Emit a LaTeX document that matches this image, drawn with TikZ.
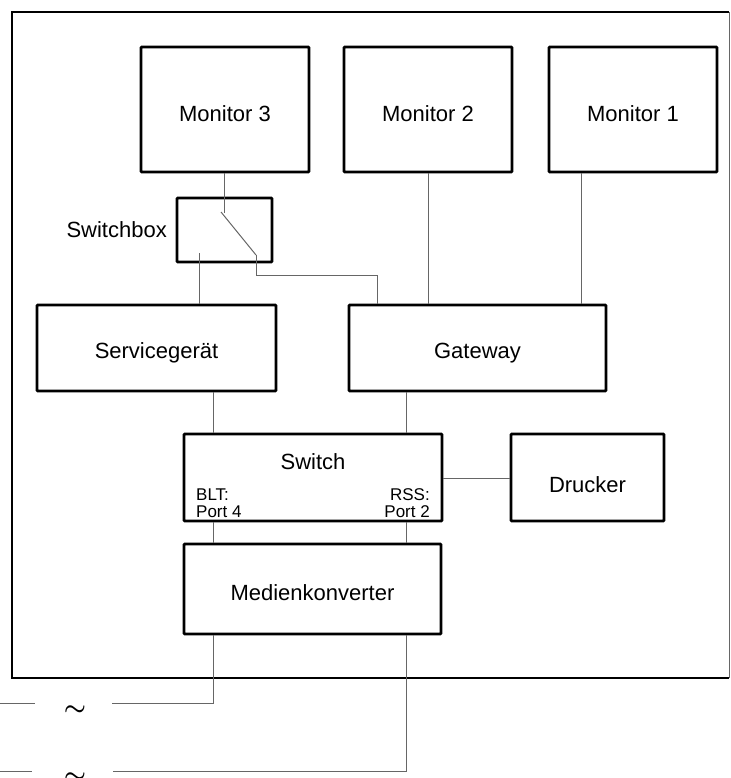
\documentclass[tikz,border=0pt]{standalone}
\usepackage{fontspec}
\setmainfont{Liberation Sans}
\begin{document}
\begin{tikzpicture}[x=1pt,y=-1pt,
  box/.style={draw=black,line width=2.8pt,rounded corners=0.8pt,inner sep=0pt},
  conn/.style={draw=black!60,line width=1pt},
  frameline/.style={draw=black,line width=2.8pt},
  lbl/.style={inner sep=0pt,font=\fontsize{22}{26}\selectfont},
  small/.style={inner sep=0pt,font=\fontsize{17}{18}\selectfont,align=left},
  tilde/.style={inner sep=0pt,font=\fontsize{44}{44}\selectfont\boldmath}]
\useasboundingbox (0,0) rectangle (730,778);
% frame
\draw[frameline] (729,12) -- (12,12) -- (12,678) -- (729,678);
\draw[conn] (729,12) -- (729,678);
% boxes
\node[box,minimum width=168pt,minimum height=125pt] (m3) at (225,109.5) {};
\node[box,minimum width=168pt,minimum height=125pt] (m2) at (428,109.5) {};
\node[box,minimum width=168pt,minimum height=125pt] (m1) at (633,109.5) {};
\node[box,minimum width=95pt,minimum height=64pt] (sb) at (224.5,230) {};
\node[box,minimum width=239pt,minimum height=86pt] (sg) at (156.5,348) {};
\node[box,minimum width=257pt,minimum height=86pt] (gw) at (477.5,348) {};
\node[box,minimum width=258pt,minimum height=87pt] (sw) at (313,477.5) {};
\node[box,minimum width=153pt,minimum height=87pt] (dr) at (587.5,477.5) {};
\node[box,minimum width=257pt,minimum height=90pt] (mk) at (312.5,589) {};
% labels
\node[lbl,anchor=base] (m3t) at (225,122) {Monitor 3};
\node[lbl,anchor=base] (m2t) at (428,122) {Monitor 2};
\node[lbl,anchor=base] (m1t) at (633,122) {Monitor 1};
\node[lbl,anchor=base east] (sbt) at (167,237) {Switchbox};
\node[lbl,anchor=base] (sgt) at (156.5,358) {Servicegerät};
\node[lbl,anchor=base] (gwt) at (477.5,358) {Gateway};
\node[lbl,anchor=base] (swt) at (313,469) {Switch};
\node[lbl,anchor=base] (drt) at (587.5,492) {Drucker};
\node[lbl,anchor=base] (mkt) at (312.5,600) {Medienkonverter};
\node[small,anchor=base west] (blt) at (196,500) {BLT:};
\node[small,anchor=base west] (p4) at (196,517) {Port 4};
\node[small,anchor=base east,align=right] (rss) at (430,500) {RSS:};
\node[small,anchor=base east,align=right] (p2) at (430,517) {Port 2};
% helper coordinates
\coordinate (swtop) at (224,213);
\coordinate (swA) at (221,212);
\coordinate (swB) at (256,255);
\coordinate (gwport) at (377,275);
\coordinate (sbin) at (199,253);
\coordinate (x428) at (428,0);
\coordinate (x581) at (581,0);
\coordinate (x213) at (213,0);
\coordinate (x406) at (406,0);
\coordinate (y478) at (0,478);
\coordinate (l1) at (112,703);
\coordinate (l2) at (113,771);
\coordinate (f1a) at (0,703);
\coordinate (f1b) at (35,703);
\coordinate (f2a) at (0,771);
\coordinate (f2b) at (32,771);
% connectors
\draw[conn] (m3.south -| swtop) -- (swtop);
\draw[conn] (swA) -- (swB);
\draw[conn] (swB) |- (gwport) -- (gwport |- gw.north);
\draw[conn] (sg.north -| sbin) -- (sbin);
\draw[conn] (m2.south -| x428) -- (gw.north -| x428);
\draw[conn] (m1.south -| x581) -- (gw.north -| x581);
\draw[conn] (sg.south -| x213) -- (sw.north -| x213);
\draw[conn] (gw.south -| x406) -- (sw.north -| x406);
\draw[conn] (sw.east |- y478) -- (dr.west |- y478);
\draw[conn] (sw.south -| x213) -- (mk.north -| x213);
\draw[conn] (sw.south -| x406) -- (mk.north -| x406);
\draw[conn] (mk.south -| x213) |- (l1);
\draw[conn] (mk.south -| x406) |- (l2);
\draw[conn] (f1a) -- (f1b);
\draw[conn] (f2a) -- (f2b);
% tildes
\node[tilde] (t1) at (75,711) {$\sim$};
\node[tilde] (t2) at (75,778) {$\sim$};
\end{tikzpicture}
\end{document}
